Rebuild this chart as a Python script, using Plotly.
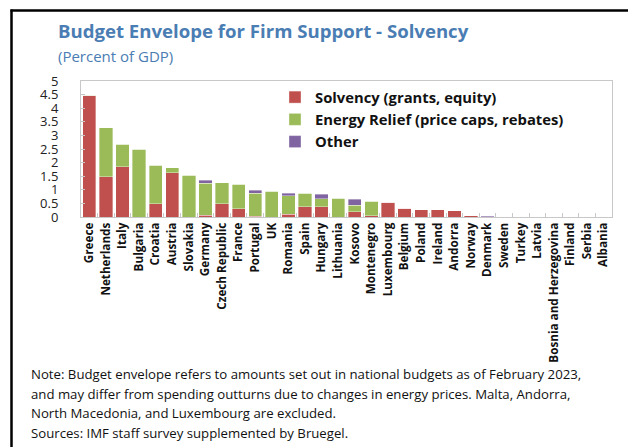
import plotly.graph_objects as go

countries = ["Greece", "Netherlands", "Italy", "Bulgaria", "Croatia", "Austria", "Slovakia",
             "Germany", "Czech Republic", "France", "Portugal", "UK", "Romania", "Spain",
             "Hungary", "Lithuania", "Kosovo", "Montenegro", "Luxembourg", "Belgium", "Poland",
             "Ireland", "Andorra", "Norway", "Denmark", "Sweden", "Turkey", "Latvia",
             "Bosnia and Herzegovina", "Finland", "Serbia", "Albania"]
solvency = [4.45, 1.48, 1.85, 0.0, 0.49, 1.63, 0.0, 0.07, 0.48, 0.31, 0.03, 0.0, 0.11, 0.38,
            0.37, 0.0, 0.20, 0.05, 0.55, 0.33, 0.27, 0.26, 0.23, 0.05, 0.0, 0.0, 0.01, 0.0,
            0.0, 0.0, 0.0, 0.0]
energy = [0.02, 1.80, 0.82, 2.49, 1.41, 0.18, 1.54, 1.17, 0.78, 0.90, 0.84, 0.94, 0.67, 0.50,
          0.30, 0.69, 0.24, 0.53, 0.0, 0.0, 0.0, 0.0, 0.0, 0.0, 0.0, 0.015, 0.0, 0.0,
          0.0, 0.0, 0.0, 0.0]
other = [0.0, 0.0, 0.0, 0.0, 0.0, 0.0, 0.0, 0.11, 0.0, 0.0, 0.12, 0.0, 0.10, 0.0,
         0.16, 0.0, 0.22, 0.0, 0.0, 0.0, 0.0, 0.0, 0.0, 0.0, 0.03, 0.0, 0.0, 0.0,
         0.0, 0.0, 0.0, 0.0]
series_names = ["Solvency (grants, equity)", "Energy Relief (price caps, rebates)", "Other"]
colors = ["#c0504d", "#9bbb59", "#8064a2"]
yticks = [0, 0.5, 1, 1.5, 2, 2.5, 3, 3.5, 4, 4.5, 5]

title = "Budget Envelope for Firm Support - Solvency"
subtitle = "(Percent of GDP)"
note_lines = [
    "Note: Budget envelope refers to amounts set out in national budgets as of February 2023,",
    "and may differ from spending outturns due to changes in energy prices. Malta, Andorra,",
    "North Macedonia, and Luxembourg are excluded.",
    "Sources: IMF staff survey supplemented by Bruegel.",
]

FONT = "Open Sans"
W, H = 628, 447
L, R, T, B = 81, 16, 81, 230
pw, ph = W - L - R, H - T - B


def px_x(x):
    return (x - L) / pw


def px_y(y):
    return (H - B - y) / ph


fig = go.Figure()
for name, vals, col in zip(series_names, [solvency, energy, other], colors):
    fig.add_trace(go.Bar(
        x=countries, y=vals, name=name, legendgroup=name,
        marker=dict(color=col, line=dict(color="rgba(255,255,255,0.6)", width=0.6)),
    ))

fig.update_layout(
    width=W, height=H,
    barmode="stack", bargap=0.2,
    margin=dict(l=L, r=R, t=T, b=B, autoexpand=False),
    paper_bgcolor="white", plot_bgcolor="white",
    font=dict(family=FONT, color="#222"),
    showlegend=True,
    legend=dict(
        x=px_x(275), y=px_y(81), xanchor="left", yanchor="top",
        font=dict(size=14.8, color="#111", weight="bold"),
        bgcolor="rgba(0,0,0,0)", traceorder="normal", tracegroupgap=5,
        itemclick=False,
    ),
    xaxis=dict(
        type="category", tickangle=-90,
        tickfont=dict(size=11.7, color="#111", weight="bold"),
        showline=True, linecolor="#c8c8c8", linewidth=1, mirror=True,
        ticks="inside", tickson="boundaries", ticklen=4, tickcolor="#c8c8c8",
        showgrid=False, range=[-0.5, len(countries) - 0.5],
    ),
    yaxis=dict(
        range=[0, 5], tickvals=yticks, ticktext=[f"{v:g}" for v in yticks],
        tickfont=dict(size=13, color="#222"),
        showline=True, linecolor="#c8c8c8", linewidth=1, mirror=True,
        ticks="inside", ticklen=4, tickcolor="#c8c8c8",
        showgrid=False, zeroline=False, ticklabelstandoff=19,
    ),
)

annotations = [
    dict(text=f"<b>{title}</b>", x=px_x(56), y=px_y(30.5), xanchor="left", yanchor="middle",
         font=dict(size=18.6, color="#4a7db3", family=FONT)),
    dict(text=subtitle, x=px_x(56), y=px_y(56), xanchor="left", yanchor="middle",
         font=dict(size=15.0, color="#4a7db3", family=FONT)),
]
for i, line in enumerate(note_lines):
    annotations.append(dict(text=line, x=px_x(29), y=px_y(374 + i * 19.5), xanchor="left",
                            yanchor="middle", font=dict(size=13.2, color="#111", family=FONT)))
for a in annotations:
    a.update(xref="paper", yref="paper", showarrow=False)
fig.update_layout(annotations=annotations)

# frame lines (top and left) of the figure box
fig.add_shape(type="line", xref="paper", yref="paper", layer="above",
              x0=px_x(10.5), x1=px_x(628), y0=px_y(10.5), y1=px_y(10.5),
              line=dict(color="black", width=2.5))
fig.add_shape(type="line", xref="paper", yref="paper", layer="above",
              x0=px_x(11.5), x1=px_x(11.5), y0=px_y(9.5), y1=px_y(447),
              line=dict(color="black", width=2.5))

fig.write_html("out.html", config={"displayModeBar": False},
               post_script="document.body.style.margin='0';document.body.style.padding='0';")
